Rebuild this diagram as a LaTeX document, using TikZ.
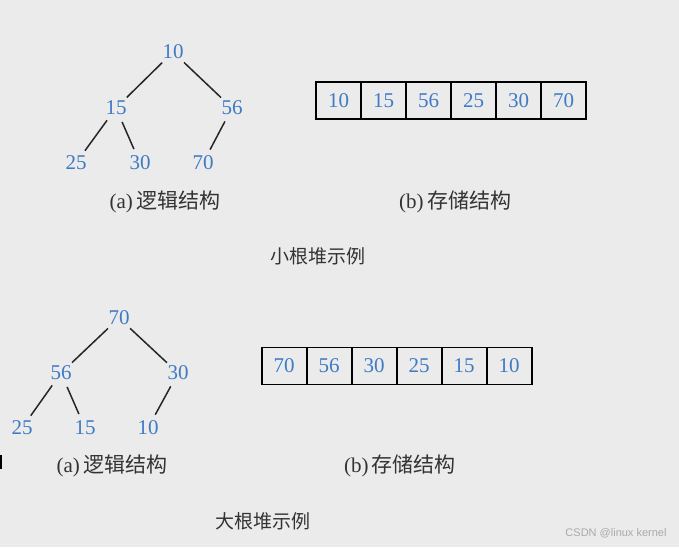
\documentclass[tikz,border=0pt]{standalone}
\usepackage{fontspec}
\setmainfont{Liberation Serif}
\newfontfamily\cjkfont{Noto Sans CJK SC}
\newfontfamily\wmfont{Liberation Sans}
\definecolor{bg}{HTML}{EBEBEB}
\definecolor{numblue}{HTML}{3F7BC4}
\definecolor{capgray}{HTML}{333333}
\definecolor{wmgray}{HTML}{AAAAAA}
\begin{document}
\begin{tikzpicture}[x=1pt,y=-1pt,
  num/.style={circle, inner sep=0pt, minimum size=30pt, text=numblue, font=\fontsize{21}{21}\selectfont},
  edge/.style={draw=black!85, line width=1.5pt},
  cell/.style={draw=black, line width=1.8pt, minimum width=45pt, minimum height=37pt, inner sep=0pt, text=numblue, font=\fontsize{21}{21}\selectfont},
  captext/.style={text=capgray, inner sep=0pt, font=\cjkfont\fontsize{21}{21}\selectfont},
  titletext/.style={text=capgray, inner sep=0pt, font=\cjkfont\fontsize{19}{19}\selectfont},
  wmtext/.style={text=wmgray, inner sep=0pt, font=\wmfont\fontsize{11}{11}\selectfont}]
\fill[bg] (0,0) rectangle (679,547);
\useasboundingbox (0,0) rectangle (679,547);
% top tree (min heap)
\node[num] (t10) at (173,52) {10};
\node[num] (t15) at (116,108) {15};
\node[num] (t56) at (232,108) {56};
\node[num] (t25) at (76,163) {25};
\node[num] (t30) at (140,163) {30};
\node[num] (t70) at (203,163) {70};
\draw[edge] (t10) -- (t15);
\draw[edge] (t10) -- (t56);
\draw[edge] (t15) -- (t25);
\draw[edge] (t15) -- (t30);
\draw[edge] (t56) -- (t70);
\node[captext] (ta) at (165,202) {{\rmfamily(a)\,}逻辑结构};
% top array
\node[cell] (c1) at (338.5,100.5) {10};
\node[cell] (c2) at (383.5,100.5) {15};
\node[cell] (c3) at (428.5,100.5) {56};
\node[cell] (c4) at (473.5,100.5) {25};
\node[cell] (c5) at (518.5,100.5) {30};
\node[cell] (c6) at (563.5,100.5) {70};
\node[captext] (tb) at (455,202) {{\rmfamily(b)\,}存储结构};
\node[titletext] (tt) at (318,256) {小根堆示例};
% bottom tree (max heap)
\node[num] (b70) at (119,318) {70};
\node[num] (b56) at (61,373) {56};
\node[num] (b30) at (178,373) {30};
\node[num] (b25) at (22,428) {25};
\node[num] (b15) at (85,428) {15};
\node[num] (b10) at (148,428) {10};
\draw[edge] (b70) -- (b56);
\draw[edge] (b70) -- (b30);
\draw[edge] (b56) -- (b25);
\draw[edge] (b56) -- (b15);
\draw[edge] (b30) -- (b10);
\node[captext] (ba) at (112,466) {{\rmfamily(a)\,}逻辑结构};
% bottom array
\node[cell] (d1) at (284.2,366) {70};
\node[cell] (d2) at (329.2,366) {56};
\node[cell] (d3) at (374.2,366) {30};
\node[cell] (d4) at (419.2,366) {25};
\node[cell] (d5) at (464.2,366) {15};
\node[cell] (d6) at (509.2,366) {10};
\node[captext] (bb) at (400,466) {{\rmfamily(b)\,}存储结构};
\node[titletext] (bt) at (263,521) {大根堆示例};
% watermark and edge mark
\node[wmtext] (wmk) at (616,533) {CSDN @linux kernel};
\fill[black] (0,455) rectangle (2,469);
\end{tikzpicture}
\end{document}
